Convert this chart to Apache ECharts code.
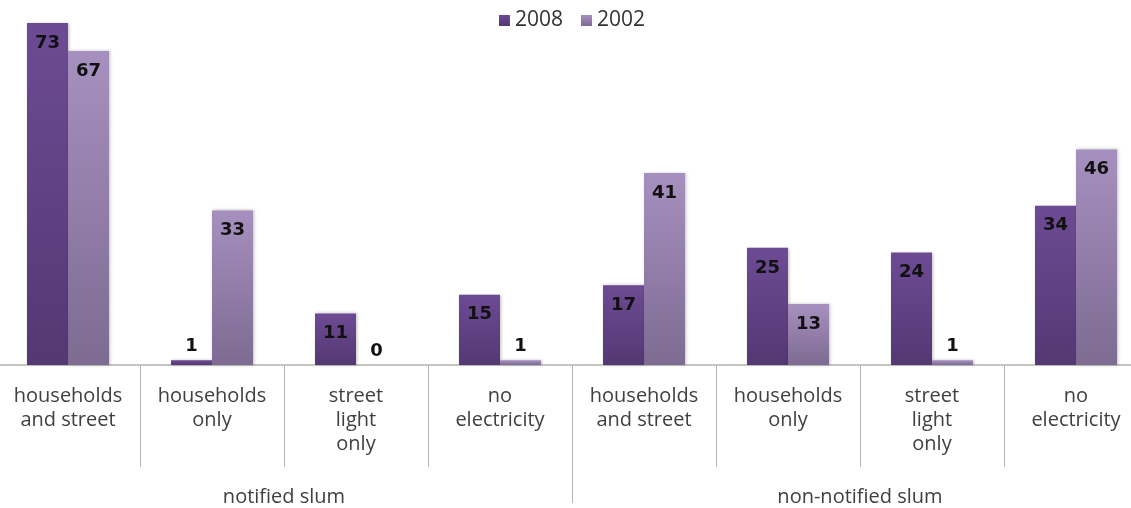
<!DOCTYPE html>
<html><head><meta charset="utf-8">
<script src="https://cdn.jsdelivr.net/npm/echarts@6/dist/echarts.min.js"></script>
<style>html,body{margin:0;padding:0;background:#fff;overflow:hidden;width:1131px;height:508px}#c{position:absolute;left:-4px;top:0;width:1152px;height:508px}</style>
</head><body><div id="c"></div>
<script>
const categories = ['households\nand street','households\nonly','street\nlight\nonly','no\nelectricity','households\nand street','households\nonly','street\nlight\nonly','no\nelectricity'];
const groups = ['notified slum','non-notified slum'];
const seriesNames = ['2008','2002'];
const values2008 = [73, 1, 11, 15, 17, 25, 24, 34];
const values2002 = [67, 33, 0, 1, 41, 13, 1, 46];

const grad = (a,b)=>new echarts.graphic.LinearGradient(0,0,0,1,[{offset:0,color:a},{offset:1,color:b}]);
const c2008 = grad('#6d4b94','#533872');
const c2002 = grad('#a690bf','#7d6b92');
const mk = arr => arr.map(v => ({value:v, label:{position: v < 4 ? 'top' : 'insideTop', distance: v < 4 ? 5 : 11}}));

const chart = echarts.init(document.getElementById('c'));
const lbl = {show:true, color:'#111', fontWeight:'bold', fontSize:18, fontFamily:'DejaVu Sans'};
chart.setOption({
  animation:false,
  legend:{top:5, left:'center', itemWidth:11, itemHeight:11, itemGap:18, icon:'rect',
    textStyle:{fontSize:21, color:'#333', fontFamily:'Open Sans'}, data:seriesNames},
  grid:{left:0, right:0, top:13.6, bottom:143, containLabel:false},
  xAxis:[{type:'category', data:categories, position:'bottom',
    axisLine:{lineStyle:{color:'#c4c4c4', width:2}},
    axisTick:{show:true, interval:0, length:102, lineStyle:{color:'#b4b4b4', width:1}},
    axisLabel:{interval:0, color:'#404040', fontSize:20, lineHeight:24, margin:19, fontFamily:'Open Sans'}},
   {type:'category', data:groups, position:'bottom',
    axisLine:{show:false},
    axisTick:{show:true, interval:0, length:138, lineStyle:{color:'#b4b4b4', width:1}},
    axisLabel:{interval:0, color:'#404040', fontSize:20, margin:122, fontFamily:'Open Sans'}}],
  yAxis:{type:'value', min:0, max:75, show:false, splitLine:{show:false}},
  series:[
    {name:'2008', type:'bar', data:mk(values2008), barWidth:41, barGap:'0%', itemStyle:{color:c2008, shadowColor:'rgba(0,0,0,0.25)', shadowBlur:3, shadowOffsetX:1}, label:lbl},
    {name:'2002', type:'bar', data:mk(values2002), barWidth:41, itemStyle:{color:c2002, shadowColor:'rgba(0,0,0,0.25)', shadowBlur:3, shadowOffsetX:1}, label:lbl}
  ]
});
</script></body></html>
